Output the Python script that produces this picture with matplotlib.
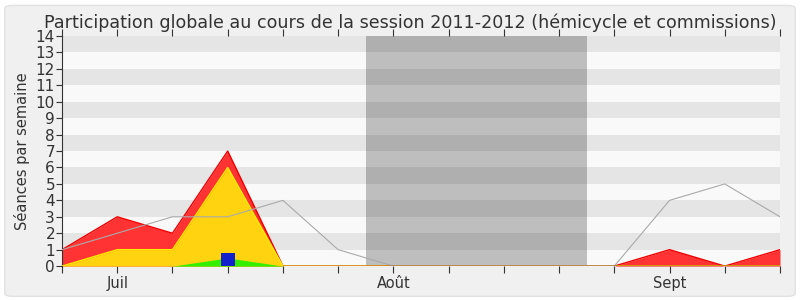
import numpy as np
import matplotlib
matplotlib.use('Agg')
import matplotlib.pyplot as plt
from matplotlib.patches import FancyBboxPatch

# ========== données (une valeur par semaine) ==========
semaines = np.arange(14)
mois_pos = [1, 6, 11]
mois_labels = ['Juil', 'Août', 'Sept']

presence_totale = [1, 3, 2, 7, 0, 0, 0, 0, 0, 0, 0, 1, 0, 1]   # rouge
presence_hemicycle = [0, 1, 1, 6, 0, 0, 0, 0, 0, 0, 0, 0, 0, 0]  # jaune
interventions = [0, 0, 0, 0.5, 0, 0, 0, 0, 0, 0, 0, 0, 0, 0]   # vert
questions = [0, 0, 0, 0.8, 0, 0, 0, 0, 0, 0, 0, 0, 0, 0]      # bleu
mediane = [1, 2, 3, 3, 4, 1, 0, 0, 0, 0, 0, 4, 5, 3]          # gris

vacances = (5.5, 9.5)
ymax = 14

fig = plt.figure(figsize=(8, 3), dpi=100)
fig.patch.set_facecolor('white')
fig.patches.append(FancyBboxPatch((0.006, 0.012), 0.988, 0.97, boxstyle='round,pad=0,rounding_size=0.01',
                                  transform=fig.transFigure, facecolor='#f0f0f0', edgecolor='#e2e2e2',
                                  linewidth=1, zorder=-10))

ax = fig.add_axes([0.0775, 0.113, 0.8975, 0.767])
ax.set_facecolor('#f9f9f9')

# bandes horizontales
for y in range(1, ymax, 2):
    ax.axhspan(y, y + 1, color='#e5e5e5', lw=0, zorder=0)

ax.axvspan(vacances[0], vacances[1], color='black', alpha=0.235, lw=0, zorder=1)

ax.fill_between(semaines, presence_totale, color='#ff3333', lw=0, zorder=2)
ax.plot(semaines, presence_totale, color='#ee0000', lw=1, zorder=2)
ax.fill_between(semaines, presence_hemicycle, color='#ffd30f', lw=0, zorder=3)
ax.plot(semaines, presence_hemicycle, color='#ffee00', lw=1, zorder=3)
ax.fill_between(semaines, interventions, color='#33ee00', lw=0, zorder=4)
ax.bar(semaines, questions, width=0.25, color='#1122cc', zorder=5)
ax.plot(semaines, mediane, color='#aaaaaa', lw=0.8, zorder=6)
ax.plot([4, 10], [0, 0], color='#661100', lw=1, zorder=6)
ax.plot([10, 13], [0, 0], color='#225500', lw=1, zorder=6)

ax.set_xlim(0, 13)
ax.set_ylim(0, ymax)
ax.set_yticks(range(0, ymax + 1))
ax.set_xticks(semaines)
ax.set_xticklabels([mois_labels[mois_pos.index(s)] if s in mois_pos else '' for s in semaines])
ax.tick_params(axis='x', top=True, direction='out', length=5, colors='#333333', labelsize=10.5, pad=2)
ax.tick_params(axis='y', direction='out', length=4, colors='#333333', labelsize=11, pad=1)
for s in ax.spines.values():
    s.set_visible(False)
ax.spines['left'].set_visible(True)
ax.spines['left'].set_color('#333333')

ax.set_ylabel('Séances par semaine', fontsize=10.5, color='#333333', labelpad=4)
fig.text(0.513, 0.925, 'Participation globale au cours de la session 2011-2012 (hémicycle et commissions)',
         ha='center', va='center', fontsize=12.6, color='#333333')

fig.savefig('out.png', dpi=100)
